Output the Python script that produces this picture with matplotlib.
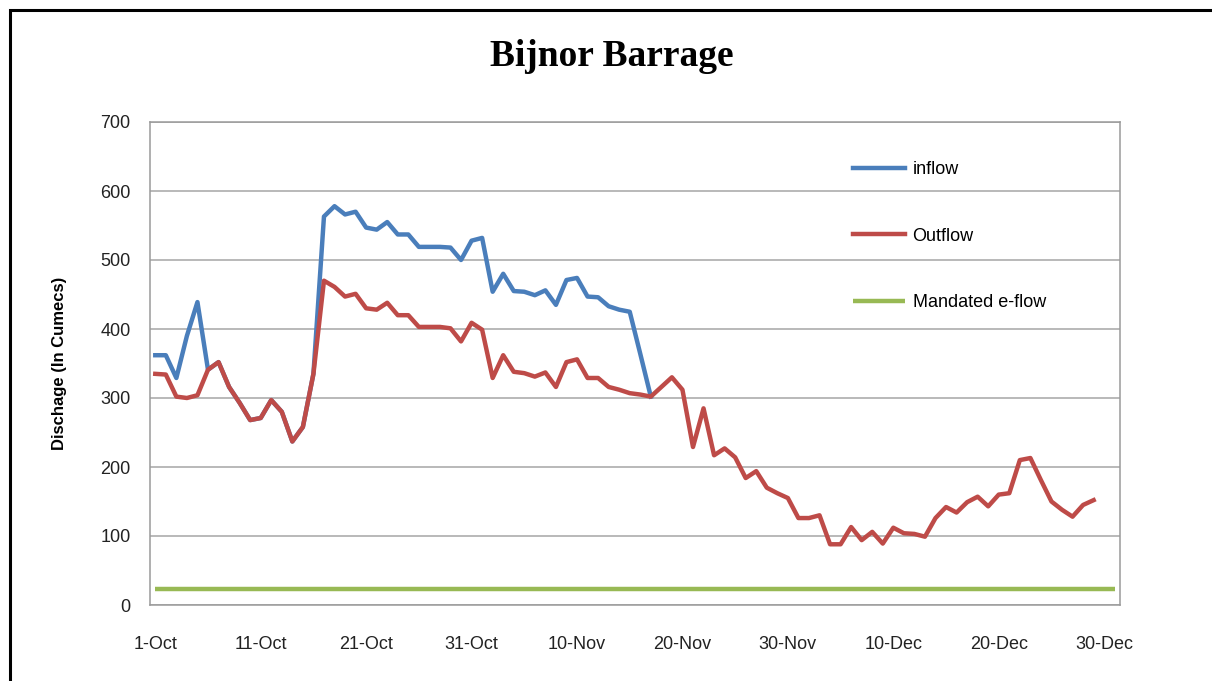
import matplotlib
matplotlib.use("Agg")
import matplotlib.pyplot as plt
import numpy as np
from matplotlib.patches import Rectangle

# ---- data (daily, starting 1-Oct) ----
outflow = [335, 334, 302, 300, 304, 341, 352, 316, 293, 268,
           271, 297, 280, 237, 258, 335, 470, 461, 447, 451,
           430, 428, 438, 420, 420, 403, 403, 403, 401, 382,
           409, 399, 329, 362, 338, 336, 331, 337, 316, 352,
           356, 329, 329, 316, 312, 307, 305, 302, 316, 330,
           312, 229, 285, 217, 227, 214, 184, 194, 170, 162,
           155, 126, 126, 130, 88, 88, 113, 94, 106, 89,
           112, 104, 103, 99, 126, 142, 134, 149, 157, 143,
           160, 162, 210, 213, 181, 150, 138, 128, 145, 152]

inflow = [362, 362, 329, 390, 439, 341, 352, 316, 293, 268,
          271, 297, 280, 237, 258, 335, 563, 578, 566, 570,
          547, 544, 555, 537, 537, 519, 519, 519, 518, 500,
          528, 532, 454, 480, 455, 454, 449, 456, 435, 471,
          474, 447, 446, 433, 428, 425, 364, 302]

eflow = [23] * 92

xtick_days = [0, 10, 20, 30, 40, 50, 60, 70, 80, 90]
xtick_labels = ["1-Oct", "11-Oct", "21-Oct", "31-Oct", "10-Nov",
                "20-Nov", "30-Nov", "10-Dec", "20-Dec", "30-Dec"]
yticks = [0, 100, 200, 300, 400, 500, 600, 700]

plt.rcParams['font.family'] = ['Liberation Sans', 'DejaVu Sans']

fig = plt.figure(figsize=(12.12, 6.81), dpi=100)
fig.patch.set_facecolor('white')

# outer frame
fig.patches.append(Rectangle((10/1212, -0.05), 1.1, (681-10)/681 + 0.05,
                             transform=fig.transFigure, fill=False,
                             edgecolor='black', linewidth=2.2))

ax = fig.add_axes([150/1212, (681-605)/681, (1120-150)/1212, (605-122)/681])

c_in = '#4A7EBB'
c_out = '#BE4B48'
c_e = '#98B954'

ax.plot(np.arange(len(eflow)), eflow, color=c_e, lw=3.2, label='Mandated e-flow',
        solid_capstyle='butt', zorder=3)
ax.plot(np.arange(len(inflow)), inflow, color=c_in, lw=3.2, label='inflow', zorder=4)
ax.plot(np.arange(len(outflow)), outflow, color=c_out, lw=3.2, label='Outflow', zorder=5)

ax.set_xlim(-0.5, 91.5)
ax.set_ylim(0, 700)
ax.set_yticks(yticks)
ax.set_yticklabels([str(v) for v in yticks], fontsize=13, color='#222222')
ax.set_xticks(xtick_days)
ax.set_xticklabels(xtick_labels, fontsize=13, color='#222222')
ax.tick_params(axis='both', length=0)
ax.tick_params(axis='y', pad=14)
ax.tick_params(axis='x', pad=22)

ax.grid(axis='y', color='#A6A6A6', lw=1.1)
ax.set_axisbelow(True)
for s in ax.spines.values():
    s.set_color('#9A9A9A')
    s.set_linewidth(1.1)

ax.set_ylabel('Dischage (In Cumecs)', fontsize=12, fontweight='bold', labelpad=24)

fig.text(612/1212, (681-57)/681, 'Bijnor Barrage', ha='center', va='center',
         fontsize=27, fontweight='bold', family=['Liberation Serif', 'DejaVu Serif'])

h, l = ax.get_legend_handles_labels()
order = [1, 2, 0]
leg = ax.legend([h[i] for i in order], [l[i] for i in order],
                loc='upper left', bbox_to_anchor=(853/1212, (681-161)/681),
                bbox_transform=fig.transFigure, frameon=False,
                fontsize=13, handlelength=2.9, handletextpad=0.4,
                labelspacing=2.75, borderpad=0, borderaxespad=0)

fig.savefig('out.png', dpi=100, facecolor='white')
